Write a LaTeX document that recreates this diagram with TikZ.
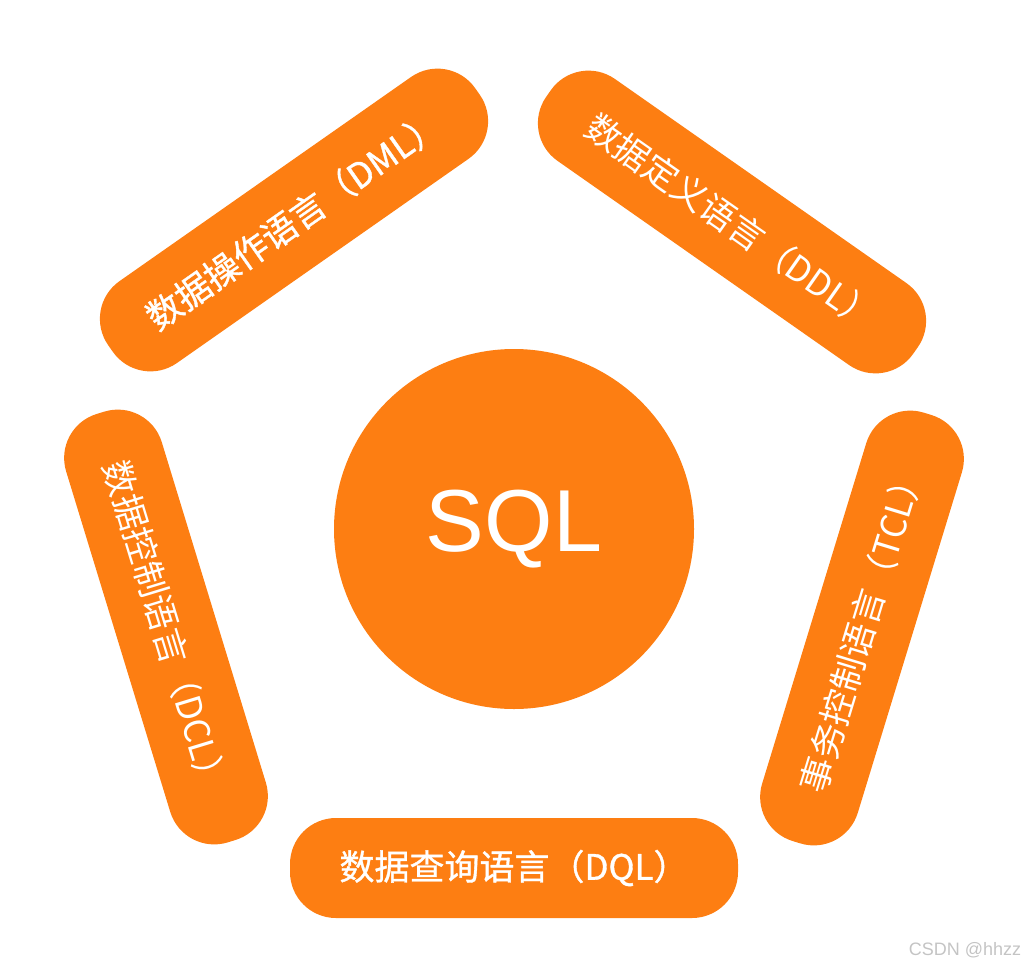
\documentclass[tikz,border=0pt]{standalone}
\usepackage{fontspec}
\setmainfont{Liberation Sans}
\newfontfamily\cjk{Noto Sans CJK SC}
\newfontfamily\cjkb[FakeBold=1]{Noto Sans CJK SC}
\definecolor{sqlorange}{HTML}{FD7E12}
\definecolor{wmgray}{HTML}{C4C4C4}
\begin{document}
\begin{tikzpicture}[x=1pt,y=-1pt,
  pill/.style={fill=sqlorange, rounded corners=46pt, minimum width=448pt,
    minimum height=100pt, inner sep=0pt, text=white,
    font=\cjk\fontsize{35}{35}\selectfont},
  pillb/.style={pill, font=\cjkb\fontsize{35}{35}\selectfont}]
\useasboundingbox (0,0) rectangle (1024,969);
\node[circle, fill=sqlorange, minimum size=360pt, inner sep=0pt, text=white,
  font=\fontsize{88}{88}\selectfont] (sql) at (514,529) {SQL};
\node[pillb, rotate=35] (dml) at (294,220) {数据操作语言（DML）};
\node[pill, rotate=-35] (ddl) at (732,222) {数据定义语言（DDL）};
\node[pill, rotate=-73] (dcl) at (166,627) {数据控制语言（DCL）};
\node[pill, rotate=73] (tcl) at (862,628) {事务控制语言（TCL）};
\node[pillb] (dql) at (514,868) {数据查询语言（DQL）};
\node[text=wmgray, font=\fontsize{18}{18}\selectfont, inner sep=0pt] (wm) at (965,950) {CSDN @hhzz};
\end{tikzpicture}
\end{document}
